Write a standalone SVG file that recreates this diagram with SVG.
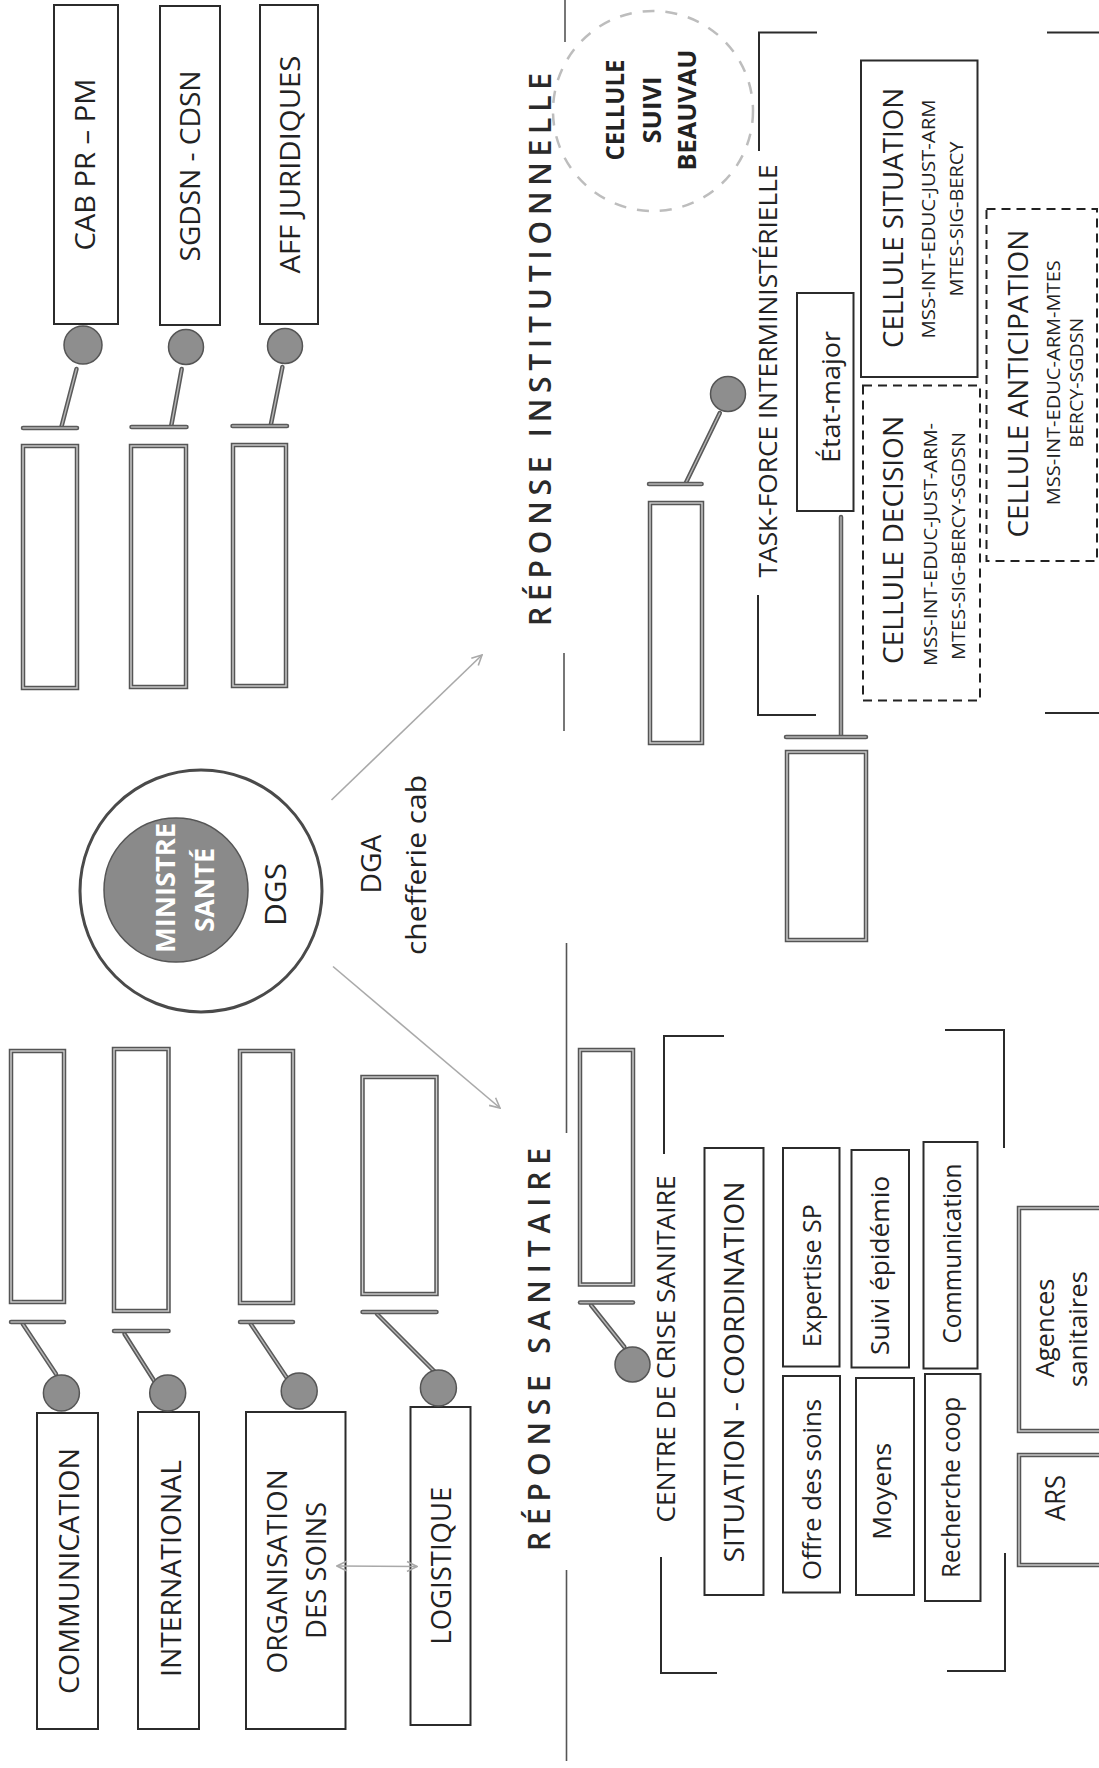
<svg xmlns="http://www.w3.org/2000/svg" width="1099" height="1768" viewBox="0 0 1099 1768">
<style>
  text { font-family: "Open Sans", "Liberation Sans", sans-serif; fill: #222; text-anchor: middle; }
  .box { fill: #fff; stroke: #2b2b2b; stroke-width: 2; }
  .dash { fill: none; stroke: #222; stroke-width: 2; stroke-dasharray: 9 6; }
  .hollow { fill: #fff; stroke: #555; stroke-width: 4.5; }
  .hollow-in { fill: none; stroke: #cfcfcf; stroke-width: 1.4; }
  .stem { stroke: #5a5a5a; stroke-width: 4.5; stroke-linecap: round; fill: none; }
  .stem-in { stroke: #b5b5b5; stroke-width: 1.4; stroke-linecap: round; fill: none; }
  .knob { fill: #8e8e8e; stroke: #555; stroke-width: 1.5; }
  .bracket { fill: none; stroke: #2b2b2b; stroke-width: 2; }
  .divider { fill: none; stroke: #555; stroke-width: 1.6; }
  .flow { fill: none; stroke: #a9a9a9; stroke-width: 1.6; }
  .head { font-size: 30px; font-weight: 600; fill: #2a2a2a; }
  .t28 { font-size: 28px; }
  .t26 { font-size: 26px; }
  .t19 { font-size: 19px; }
  .b25 { font-size: 25px; font-weight: 700; }
  .white { fill: #fff; }
</style>
<defs>
  <marker id="open-arrow" viewBox="0 0 12 12" refX="11" refY="6" markerWidth="12" markerHeight="12" markerUnits="userSpaceOnUse" orient="auto-start-reverse">
    <path d="M1,1 L11,6 L1,11" fill="none" stroke="#a9a9a9" stroke-width="1.6"/>
  </marker>
</defs>
<rect width="1099" height="1768" fill="#fff"/>

<!-- section dividers and headings -->
<g id="sections">
  <line class="divider" x1="565" y1="0" x2="565" y2="42" stroke="#aaa"/>
  <line class="divider" x1="564" y1="653" x2="564" y2="731"/>
  <line class="divider" x1="566.5" y1="943" x2="566.5" y2="1133"/>
  <line class="divider" x1="566.5" y1="1570" x2="566.5" y2="1761"/>
  <text class="head" transform="translate(551,349.5) rotate(-90)" textLength="553">RÉPONSE INSTITUTIONNELLE</text>
  <text class="head" transform="translate(550,1349.5) rotate(-90)" textLength="403">RÉPONSE SANITAIRE</text>
</g>

<!-- group brackets -->
<g id="brackets">
  <polyline class="bracket" points="817,32.5 759,32.5 759,151"/>
  <polyline class="bracket" points="758,595 758,715 816,715"/>
  <line class="bracket" x1="1047" y1="32.5" x2="1099" y2="32.5"/>
  <line class="bracket" x1="1045" y1="713" x2="1099" y2="713"/>
  <polyline class="bracket" points="724,1036 664,1036 664,1154"/>
  <polyline class="bracket" points="661,1557 661,1673 717,1673"/>
  <polyline class="bracket" points="945,1030 1004,1030 1004,1148"/>
  <polyline class="bracket" points="1005,1553 1005,1671 947,1671"/>
</g>

<!-- central node -->
<g id="ministre-sante">
  <circle cx="201" cy="891" r="121" fill="#fff" stroke="#4a4a4a" stroke-width="3"/>
  <circle cx="176" cy="890" r="72" fill="#8a8a8a" stroke="#555" stroke-width="1.5"/>
  <text class="b25 white" style="font-size:26px" transform="translate(175,888) rotate(-90)" textLength="130" lengthAdjust="spacingAndGlyphs">MINISTRE</text>
  <text class="b25 white" style="font-size:26px" transform="translate(214,890) rotate(-90)" textLength="84" lengthAdjust="spacingAndGlyphs">SANTÉ</text>
  <text style="font-size:30px" transform="translate(286,894.5) rotate(-90)" textLength="63" lengthAdjust="spacingAndGlyphs">DGS</text>
</g>
<g id="dga">
  <text class="t28" transform="translate(380.5,864) rotate(-90)" textLength="59" lengthAdjust="spacingAndGlyphs">DGA</text>
  <text class="t28" transform="translate(426,865) rotate(-90)" textLength="180" lengthAdjust="spacingAndGlyphs">chefferie cab</text>
</g>

<!-- upper row of labelled boxes -->
<g id="cab-pr-pm">
  <rect class="box" x="54" y="5" width="64" height="319"/>
  <text class="t28" transform="translate(94.7,164.6) rotate(-90)" textLength="172" lengthAdjust="spacingAndGlyphs">CAB PR – PM</text>
</g>
<g id="sgdsn-cdsn">
  <rect class="box" x="160" y="6" width="60" height="319"/>
  <text class="t28" transform="translate(200,166) rotate(-90)" textLength="191" lengthAdjust="spacingAndGlyphs">SGDSN - CDSN</text>
</g>
<g id="aff-juridiques">
  <rect class="box" x="260" y="5" width="58" height="319"/>
  <text class="t28" transform="translate(300,164.6) rotate(-90)" textLength="218" lengthAdjust="spacingAndGlyphs">AFF JURIDIQUES</text>
</g>

<!-- empty slots, upper row -->
<g id="slot-cab"><rect class="hollow" x="23" y="446" width="54" height="242"/><rect class="hollow-in" x="23" y="446" width="54" height="242"/></g>
<g id="slot-sgdsn"><rect class="hollow" x="131" y="446" width="55" height="241"/><rect class="hollow-in" x="131" y="446" width="55" height="241"/></g>
<g id="slot-aff"><rect class="hollow" x="233" y="445" width="53" height="241"/><rect class="hollow-in" x="233" y="445" width="53" height="241"/></g>

<!-- empty slots, lower row -->
<g id="slot-communication"><rect class="hollow" x="11" y="1051" width="53" height="251"/><rect class="hollow-in" x="11" y="1051" width="53" height="251"/></g>
<g id="slot-international"><rect class="hollow" x="114" y="1049" width="54.5" height="262"/><rect class="hollow-in" x="114" y="1049" width="54.5" height="262"/></g>
<g id="slot-organisation"><rect class="hollow" x="240" y="1051" width="53" height="252"/><rect class="hollow-in" x="240" y="1051" width="53" height="252"/></g>
<g id="slot-logistique"><rect class="hollow" x="362.5" y="1077" width="74" height="217"/><rect class="hollow-in" x="362.5" y="1077" width="74" height="217"/></g>

<!-- lower row of labelled boxes -->
<g id="communication">
  <rect class="box" x="37" y="1413" width="61" height="316"/>
  <text class="t28" transform="translate(78.9,1571) rotate(-90)" textLength="246" lengthAdjust="spacingAndGlyphs">COMMUNICATION</text>
</g>
<g id="international">
  <rect class="box" x="138" y="1412" width="61" height="317"/>
  <text class="t28" transform="translate(180.6,1568.5) rotate(-90)" textLength="217" lengthAdjust="spacingAndGlyphs">INTERNATIONAL</text>
</g>
<g id="organisation-soins">
  <rect class="box" x="246" y="1412" width="99.5" height="317"/>
  <text class="t28" transform="translate(286.9,1571.4) rotate(-90)" textLength="204" lengthAdjust="spacingAndGlyphs">ORGANISATION</text>
  <text class="t28" transform="translate(326,1570.4) rotate(-90)" textLength="137" lengthAdjust="spacingAndGlyphs">DES SOINS</text>
</g>
<g id="logistique">
  <rect class="box" x="410.5" y="1407" width="60" height="318"/>
  <text class="t28" transform="translate(450.5,1565.7) rotate(-90)" textLength="158" lengthAdjust="spacingAndGlyphs">LOGISTIQUE</text>
</g>

<!-- institutional response -->
<g id="cellule-suivi-beauvau">
  <circle cx="653" cy="111" r="100" fill="none" stroke="#bdbdbd" stroke-width="2.5" stroke-dasharray="12 11"/>
  <text class="b25" transform="translate(624.4,110) rotate(-90)" textLength="101" lengthAdjust="spacingAndGlyphs">CELLULE</text>
  <text class="b25" transform="translate(660.5,110) rotate(-90)" textLength="67" lengthAdjust="spacingAndGlyphs">SUIVI</text>
  <text class="b25" transform="translate(696,110) rotate(-90)" textLength="121" lengthAdjust="spacingAndGlyphs">BEAUVAU</text>
</g>
<g id="task-force">
  <text class="t26" transform="translate(777,371) rotate(-90)" textLength="413" lengthAdjust="spacingAndGlyphs">TASK-FORCE INTERMINISTÉRIELLE</text>
</g>
<g id="slot-task-force"><rect class="hollow" x="650" y="503" width="52" height="240"/><rect class="hollow-in" x="650" y="503" width="52" height="240"/></g>
<g id="etat-major">
  <rect class="box" x="797" y="293" width="56.5" height="218"/>
  <text class="t26" transform="translate(840,397) rotate(-90)" textLength="132" lengthAdjust="spacingAndGlyphs">État-major</text>
</g>
<g id="slot-etat-major"><rect class="hollow" x="787" y="752" width="79" height="188"/><rect class="hollow-in" x="787" y="752" width="79" height="188"/></g>
<g id="cellule-situation">
  <rect class="box" x="861" y="60.5" width="116.5" height="316.5"/>
  <text class="t28" transform="translate(903,218) rotate(-90)" textLength="260" lengthAdjust="spacingAndGlyphs">CELLULE SITUATION</text>
  <text class="t19" transform="translate(934.5,219) rotate(-90)" textLength="239" lengthAdjust="spacingAndGlyphs">MSS-INT-EDUC-JUST-ARM</text>
  <text class="t19" transform="translate(963,219) rotate(-90)" textLength="155" lengthAdjust="spacingAndGlyphs">MTES-SIG-BERCY</text>
</g>
<g id="cellule-decision">
  <rect class="dash" x="863" y="385.5" width="117" height="315"/>
  <text class="t28" transform="translate(903,540) rotate(-90)" textLength="248" lengthAdjust="spacingAndGlyphs">CELLULE DECISION</text>
  <text class="t19" transform="translate(936.5,544.5) rotate(-90)" textLength="243" lengthAdjust="spacingAndGlyphs">MSS-INT-EDUC-JUST-ARM-</text>
  <text class="t19" transform="translate(964.5,546) rotate(-90)" textLength="228" lengthAdjust="spacingAndGlyphs">MTES-SIG-BERCY-SGDSN</text>
</g>
<g id="cellule-anticipation">
  <rect class="dash" x="986.5" y="209" width="110.5" height="352"/>
  <text class="t28" transform="translate(1028.3,383.6) rotate(-90)" textLength="308" lengthAdjust="spacingAndGlyphs">CELLULE ANTICIPATION</text>
  <text class="t19" transform="translate(1060,382.7) rotate(-90)" textLength="245" lengthAdjust="spacingAndGlyphs">MSS-INT-EDUC-ARM-MTES</text>
  <text class="t19" transform="translate(1083,382.7) rotate(-90)" textLength="130" lengthAdjust="spacingAndGlyphs">BERCY-SGDSN</text>
</g>

<!-- health response -->
<g id="slot-centre-crise"><rect class="hollow" x="580" y="1050" width="53" height="234.5"/><rect class="hollow-in" x="580" y="1050" width="53" height="234.5"/></g>
<g id="centre-crise">
  <text class="t26" transform="translate(675.3,1349) rotate(-90)" textLength="347" lengthAdjust="spacingAndGlyphs">CENTRE DE CRISE SANITAIRE</text>
</g>
<g id="situation-coordination">
  <rect class="box" x="704.5" y="1148" width="59" height="447"/>
  <text class="t28" transform="translate(743.7,1372) rotate(-90)" textLength="381" lengthAdjust="spacingAndGlyphs">SITUATION - COORDINATION</text>
</g>
<g id="expertise-sp">
  <rect class="box" x="783" y="1148" width="56.5" height="218.5"/>
  <text class="t26" transform="translate(821,1275.8) rotate(-90)" textLength="143" lengthAdjust="spacingAndGlyphs">Expertise SP</text>
</g>
<g id="offre-soins">
  <rect class="box" x="783" y="1376" width="57" height="216.5"/>
  <text class="t26" transform="translate(821,1489.4) rotate(-90)" textLength="181" lengthAdjust="spacingAndGlyphs">Offre des soins</text>
</g>
<g id="suivi-epidemio">
  <rect class="box" x="851.5" y="1150" width="57.5" height="217.5"/>
  <text class="t26" transform="translate(889,1265.4) rotate(-90)" textLength="179" lengthAdjust="spacingAndGlyphs">Suivi épidémio</text>
</g>
<g id="moyens">
  <rect class="box" x="856" y="1378" width="58" height="217"/>
  <text class="t26" transform="translate(891,1491.3) rotate(-90)" textLength="97" lengthAdjust="spacingAndGlyphs">Moyens</text>
</g>
<g id="communication-crise">
  <rect class="box" x="923.5" y="1142" width="54" height="226.5"/>
  <text class="t26" transform="translate(961,1253.5) rotate(-90)" textLength="180" lengthAdjust="spacingAndGlyphs">Communication</text>
</g>
<g id="recherche-coop">
  <rect class="box" x="925" y="1374" width="55.5" height="227"/>
  <text class="t26" transform="translate(959.5,1487.5) rotate(-90)" textLength="181" lengthAdjust="spacingAndGlyphs">Recherche coop</text>
</g>
<g id="agences-sanitaires">
  <rect class="hollow" x="1019" y="1208" width="95" height="223"/><rect class="hollow-in" x="1019" y="1208" width="95" height="223"/>
  <text class="t26" transform="translate(1054,1328) rotate(-90)" textLength="99" lengthAdjust="spacingAndGlyphs">Agences</text>
  <text class="t26" transform="translate(1087,1329) rotate(-90)" textLength="116" lengthAdjust="spacingAndGlyphs">sanitaires</text>
</g>
<g id="ars">
  <rect class="hollow" x="1019" y="1455" width="95" height="110"/><rect class="hollow-in" x="1019" y="1455" width="95" height="110"/>
  <text class="t26" style="font-size:27px" transform="translate(1064.5,1498) rotate(-90)" textLength="46" lengthAdjust="spacingAndGlyphs">ARS</text>
</g>

<!-- connectors: lollipop links and arrows, drawn over the box edges -->
<g id="connectors">
  <!-- upper row -->
  <line class="stem" x1="76.5" y1="369" x2="61.4" y2="427"/><line class="stem-in" x1="76.5" y1="369" x2="61.4" y2="427"/>
  <line class="stem" x1="23" y1="428" x2="77" y2="428"/><line class="stem-in" x1="23" y1="428" x2="77" y2="428"/>
  <circle class="knob" cx="83" cy="345" r="19"/>
  <line class="stem" x1="181.7" y1="369" x2="171.2" y2="426"/><line class="stem-in" x1="181.7" y1="369" x2="171.2" y2="426"/>
  <line class="stem" x1="131.5" y1="427" x2="186.5" y2="427"/><line class="stem-in" x1="131.5" y1="427" x2="186.5" y2="427"/>
  <circle class="knob" cx="186" cy="347" r="17.5"/>
  <line class="stem" x1="282.4" y1="367" x2="270.8" y2="425"/><line class="stem-in" x1="282.4" y1="367" x2="270.8" y2="425"/>
  <line class="stem" x1="232.5" y1="426" x2="287" y2="426"/><line class="stem-in" x1="232.5" y1="426" x2="287" y2="426"/>
  <circle class="knob" cx="285" cy="346" r="17.5"/>

  <!-- lower left row -->
  <line class="stem" x1="22.8" y1="1324" x2="56" y2="1374"/><line class="stem-in" x1="22.8" y1="1324" x2="56" y2="1374"/>
  <line class="stem" x1="11" y1="1322" x2="64" y2="1322"/><line class="stem-in" x1="11" y1="1322" x2="64" y2="1322"/>
  <circle class="knob" cx="61.4" cy="1393" r="18"/>
  <line class="stem" x1="124.5" y1="1334" x2="154.3" y2="1381"/><line class="stem-in" x1="124.5" y1="1334" x2="154.3" y2="1381"/>
  <line class="stem" x1="114" y1="1331" x2="168.5" y2="1331"/><line class="stem-in" x1="114" y1="1331" x2="168.5" y2="1331"/>
  <circle class="knob" cx="167.7" cy="1393" r="18"/>
  <line class="stem" x1="250.8" y1="1324" x2="287.6" y2="1379"/><line class="stem-in" x1="250.8" y1="1324" x2="287.6" y2="1379"/>
  <line class="stem" x1="240" y1="1322" x2="293" y2="1322"/><line class="stem-in" x1="240" y1="1322" x2="293" y2="1322"/>
  <circle class="knob" cx="299.2" cy="1391" r="18"/>
  <line class="stem" x1="377" y1="1314" x2="435" y2="1372"/><line class="stem-in" x1="377" y1="1314" x2="435" y2="1372"/>
  <line class="stem" x1="362.5" y1="1312" x2="436.5" y2="1312"/><line class="stem-in" x1="362.5" y1="1312" x2="436.5" y2="1312"/>
  <circle class="knob" cx="438.4" cy="1388" r="18"/>

  <!-- task-force -->
  <line class="stem" x1="719.8" y1="413" x2="685.8" y2="483"/><line class="stem-in" x1="719.8" y1="413" x2="685.8" y2="483"/>
  <line class="stem" x1="649" y1="484" x2="701.6" y2="484"/><line class="stem-in" x1="649" y1="484" x2="701.6" y2="484"/>
  <circle class="knob" cx="728" cy="394" r="17.5"/>
  <line class="stem" x1="841" y1="517" x2="841" y2="735"/><line class="stem-in" x1="841" y1="517" x2="841" y2="735"/>
  <line class="stem" x1="786" y1="737" x2="866" y2="737"/><line class="stem-in" x1="786" y1="737" x2="866" y2="737"/>

  <!-- centre de crise -->
  <line class="stem" x1="624.4" y1="1347" x2="591" y2="1305"/><line class="stem-in" x1="624.4" y1="1347" x2="591" y2="1305"/>
  <line class="stem" x1="580" y1="1302.5" x2="633" y2="1302.5"/><line class="stem-in" x1="580" y1="1302.5" x2="633" y2="1302.5"/>
  <circle class="knob" cx="632.5" cy="1364.5" r="17.5"/>

  <!-- arrows from the central circle -->
  <line class="flow" x1="331.5" y1="800" x2="482" y2="655" marker-end="url(#open-arrow)"/>
  <line class="flow" x1="333" y1="966.5" x2="500" y2="1108" marker-end="url(#open-arrow)"/>
  <line class="flow" x1="337" y1="1566" x2="417" y2="1566.5" marker-start="url(#open-arrow)" marker-end="url(#open-arrow)"/>
</g>
</svg>
